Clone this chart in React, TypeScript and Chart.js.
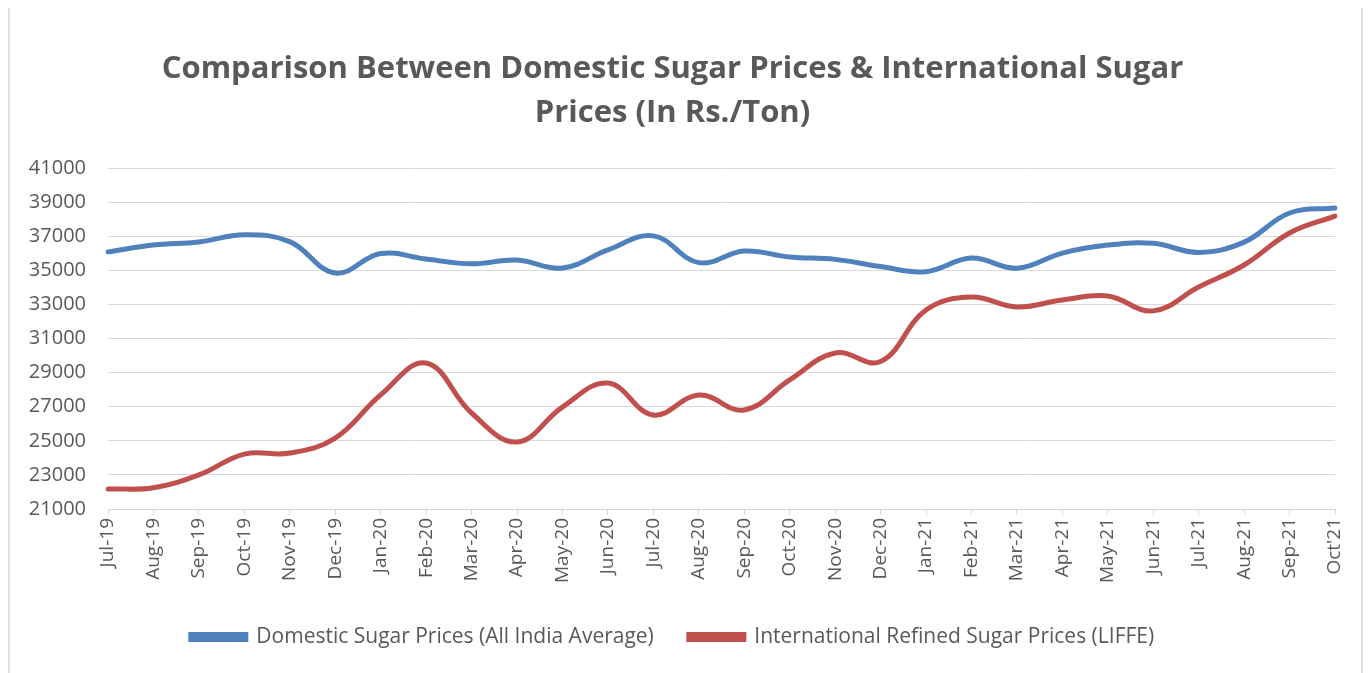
import React, { useEffect, useRef } from "react";
import { Chart, registerables } from "chart.js";

Chart.register(...registerables);

const months = [
  "Jul-19", "Aug-19", "Sep-19", "Oct-19", "Nov-19", "Dec-19",
  "Jan-20", "Feb-20", "Mar-20", "Apr-20", "May-20", "Jun-20",
  "Jul-20", "Aug-20", "Sep-20", "Oct-20", "Nov-20", "Dec-20",
  "Jan-21", "Feb-21", "Mar-21", "Apr-21", "May-21", "Jun-21",
  "Jul-21", "Aug-21", "Sep-21", "Oct'21",
];

const domesticPrices = [
  36080, 36480, 36660, 37080, 36680, 34840,
  35980, 35660, 35380, 35600, 35130, 36200,
  37020, 35450, 36130, 35780, 35640, 35220,
  34920, 35720, 35120, 36010, 36480, 36580,
  36050, 36650, 38360, 38650,
];

const internationalPrices = [
  22170, 22250, 23000, 24220, 24280, 25160,
  27690, 29560, 26630, 24930, 26980, 28390,
  26510, 27690, 26810, 28570, 30150, 29650,
  32670, 33430, 32850, 33260, 33490, 32620,
  34020, 35310, 37190, 38180,
];

const titleLines = [
  "Comparison Between Domestic Sugar Prices & International Sugar",
  "Prices (In Rs./Ton)",
];

const seriesNames = [
  "Domestic Sugar Prices (All India Average)",
  "International Refined Sugar Prices (LIFFE)",
];

const FONT = "'Open Sans', 'DejaVu Sans', sans-serif";
const TEXT = "#595959";

export default function App() {
  const ref = useRef<HTMLCanvasElement | null>(null);

  useEffect(() => {
    if (!ref.current) return;
    const chart = new Chart(ref.current, {
      type: "line",
      data: {
        labels: months,
        datasets: [
          {
            label: seriesNames[0],
            data: domesticPrices,
            borderColor: "#4f81bd",
            backgroundColor: "#4f81bd",
            borderWidth: 5,
            pointRadius: 0,
            tension: 0.4,
            borderCapStyle: "round",
          },
          {
            label: seriesNames[1],
            data: internationalPrices,
            borderColor: "#c0504d",
            backgroundColor: "#c0504d",
            borderWidth: 5,
            pointRadius: 0,
            tension: 0.4,
            borderCapStyle: "round",
          },
        ],
      },
      options: {
        responsive: true,
        maintainAspectRatio: false,
        animation: false,
        layout: { padding: { left: 0, right: 26, top: 0, bottom: 15.5 } },
        plugins: {
          title: {
            display: true,
            text: titleLines,
            color: TEXT,
            font: { family: FONT, size: 31, weight: "bold", lineHeight: "44px" },
            padding: { top: 39, bottom: 33 },
          },
          legend: {
            position: "bottom",
            labels: {
              color: TEXT,
              font: { family: FONT, size: 21 },
              boxWidth: 55,
              boxHeight: 5,
              padding: 35,
            },
          },
          tooltip: { enabled: false },
        },
        scales: {
          x: {
            offset: false,
            afterFit: (s: any) => {
              s.height = 82.5;
            },
            grid: {
              drawOnChartArea: false,
              drawTicks: true,
              tickLength: 6,
              color: "#d9d9d9",
            },
            border: { display: true, color: "#d9d9d9", width: 1 },
            ticks: {
              color: TEXT,
              font: { family: FONT, size: 19 },
              autoSkip: false,
              maxRotation: 90,
              minRotation: 90,
              padding: 3,
            },
          },
          y: {
            min: 21000,
            max: 41000,
            afterFit: (s: any) => {
              s.width = 98;
            },
            grid: { color: "#d9d9d9", lineWidth: 1, drawTicks: false },
            border: { display: false },
            ticks: {
              stepSize: 2000,
              color: TEXT,
              font: { family: FONT, size: 20 },
              padding: 22,
              callback: (v: any) => String(v),
            },
          },
        },
      },
    });
    return () => chart.destroy();
  }, []);

  return (
    <div
      style={{
        marginTop: -2,
        border: "2px solid #dedede",
        height: 665,
        position: "relative",
        background: "#fff",
      }}
    >
      <canvas ref={ref} />
    </div>
  );
}
